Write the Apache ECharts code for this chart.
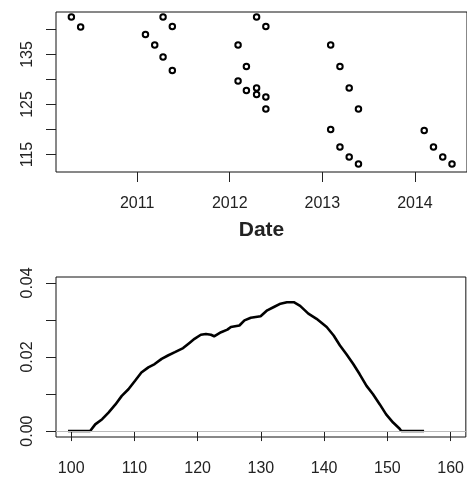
<!DOCTYPE html>
<html>
<head>
<meta charset="utf-8">
<script src="https://cdn.jsdelivr.net/npm/echarts@6/dist/echarts.min.js"></script>
<style>
    html, body {margin: 0; padding: 0; background: #fff;}
    #chart {width: 467px; height: 480px;}
</style>
</head>
<body>
<div id="chart"></div>
<script>
// top panel: observations by date (decimal years)
const dateYears = [2010.29, 2010.39, 2011.09, 2011.19, 2011.28, 2011.28, 2011.38, 2011.38,
    2012.09, 2012.09, 2012.18, 2012.18, 2012.29, 2012.29, 2012.29, 2012.39, 2012.39, 2012.39,
    2013.09, 2013.09, 2013.19, 2013.19, 2013.29, 2013.29, 2013.39, 2013.39,
    2014.10, 2014.20, 2014.30, 2014.40];
const dateValues = [142.5, 140.5, 139, 136.9, 142.5, 134.5, 140.6, 131.8,
    136.9, 129.7, 132.6, 127.8, 142.5, 128.3, 127, 140.6, 126.5, 124.1,
    136.9, 120, 132.6, 116.5, 128.3, 114.5, 124.1, 113.1,
    119.8, 116.5, 114.5, 113.1];
const yearTicks = [2011, 2012, 2013, 2014];
const topYTicks = [115, 120, 125, 130, 135, 140];
const topYLabels = [115, 125, 135];

// bottom panel: density curve
const densX = [99.5, 103.0, 103.8, 104.9, 105.9, 107.0, 108.0, 109.05, 110.1, 111.1, 112.2, 113.2,
    114.3, 115.3, 116.4, 117.7, 118.7, 119.5, 120.5, 121.3, 122.1, 122.6, 123.7, 124.7, 125.25,
    126.6, 127.4, 128.4, 129.95, 131.0, 132.05, 133.1, 134.1, 135.2, 136.2, 137.5, 138.8, 140.4,
    141.5, 142.5, 143.5, 144.6, 145.6, 146.7, 147.7, 148.8, 149.8, 150.9, 151.9, 152.2, 155.8];
const densY = [0, 0, 0.0018, 0.0032, 0.005, 0.0072, 0.0095, 0.0113, 0.0136, 0.0158, 0.0172, 0.0181,
    0.0195, 0.0204, 0.0213, 0.0224, 0.0238, 0.0249, 0.026, 0.0262, 0.026, 0.0256, 0.0267, 0.0274, 0.0281,
    0.0285, 0.0299, 0.0306, 0.031, 0.0326, 0.0335, 0.0344, 0.0348, 0.0348, 0.0338, 0.0317, 0.0303, 0.0281,
    0.0258, 0.0231, 0.0208, 0.0181, 0.0154, 0.0122, 0.01, 0.0072, 0.0045, 0.0023, 0.0007, 0, 0];
const xTicks = [100, 110, 120, 130, 140, 150, 160];
const densYTicks = [0, 0.01, 0.02, 0.03, 0.04];
const densYLabels = [0, 0.02, 0.04];

const font = {fontFamily: 'Liberation Sans, Arial, sans-serif', fontSize: 16, color: '#222'};
const tick = {show: true, inside: false, length: 10, lineStyle: {color: '#222', width: 1}};

const chart = echarts.init(document.getElementById('chart'), null, {renderer: 'canvas'});
chart.setOption({
    animation: false,
    backgroundColor: '#fff',
    grid: [
        {left: 56, top: 12, width: 413, height: 160, show: true, borderColor: '#111', borderWidth: 1, backgroundColor: 'transparent'},
        {left: 56, top: 277, width: 414, height: 160, show: true, borderColor: '#111', borderWidth: 1, backgroundColor: 'transparent'},
    ],
    xAxis: [
        {
            gridIndex: 0, type: 'value', min: 2010.124, max: 2014.562,
            axisLine: {show: false}, splitLine: {show: false},
            axisTick: {...tick, customValues: yearTicks},
            axisLabel: {...font, margin: 24, customValues: yearTicks, formatter: v => String(Math.round(v))},
            name: 'Date', nameLocation: 'middle', nameGap: 48,
            nameTextStyle: {fontFamily: 'Liberation Sans, Arial, sans-serif', fontSize: 21, fontWeight: 'bold', color: '#222'},
        },
        {
            gridIndex: 1, type: 'value', min: 97.6, max: 162.4,
            axisLine: {show: false}, splitLine: {show: false},
            axisTick: {...tick, customValues: xTicks},
            axisLabel: {...font, margin: 24, customValues: xTicks},
        },
    ],
    yAxis: [
        {
            gridIndex: 0, type: 'value', min: 111.5, max: 143.5,
            axisLine: {show: false}, splitLine: {show: false},
            axisTick: {...tick, customValues: topYTicks},
            axisLabel: {...font, rotate: 90, margin: 20, customValues: topYLabels},
        },
        {
            gridIndex: 1, type: 'value', min: -0.0016, max: 0.0416,
            axisLine: {show: false}, splitLine: {show: false},
            axisTick: {...tick, customValues: densYTicks},
            axisLabel: {...font, rotate: 90, margin: 20, customValues: densYLabels, formatter: v => v.toFixed(2)},
        },
    ],
    series: [
        {
            type: 'scatter', xAxisIndex: 0, yAxisIndex: 0,
            symbol: 'circle', symbolSize: 5.5,
            itemStyle: {color: '#fff', borderColor: '#000', borderWidth: 2, opacity: 1},
            data: dateYears.map((d, i) => [d, dateValues[i]]),
        },
        {
            type: 'line', xAxisIndex: 1, yAxisIndex: 1,
            showSymbol: false, smooth: false,
            lineStyle: {color: '#000', width: 2.6},
            data: densX.map((x, i) => [x, densY[i]]),
            markLine: {
                silent: true, symbol: 'none', label: {show: false},
                lineStyle: {color: '#bbb', width: 1, type: 'solid'},
                data: [{yAxis: 0}],
            },
            z: 3,
        },
    ],
});
</script>
</body>
</html>
